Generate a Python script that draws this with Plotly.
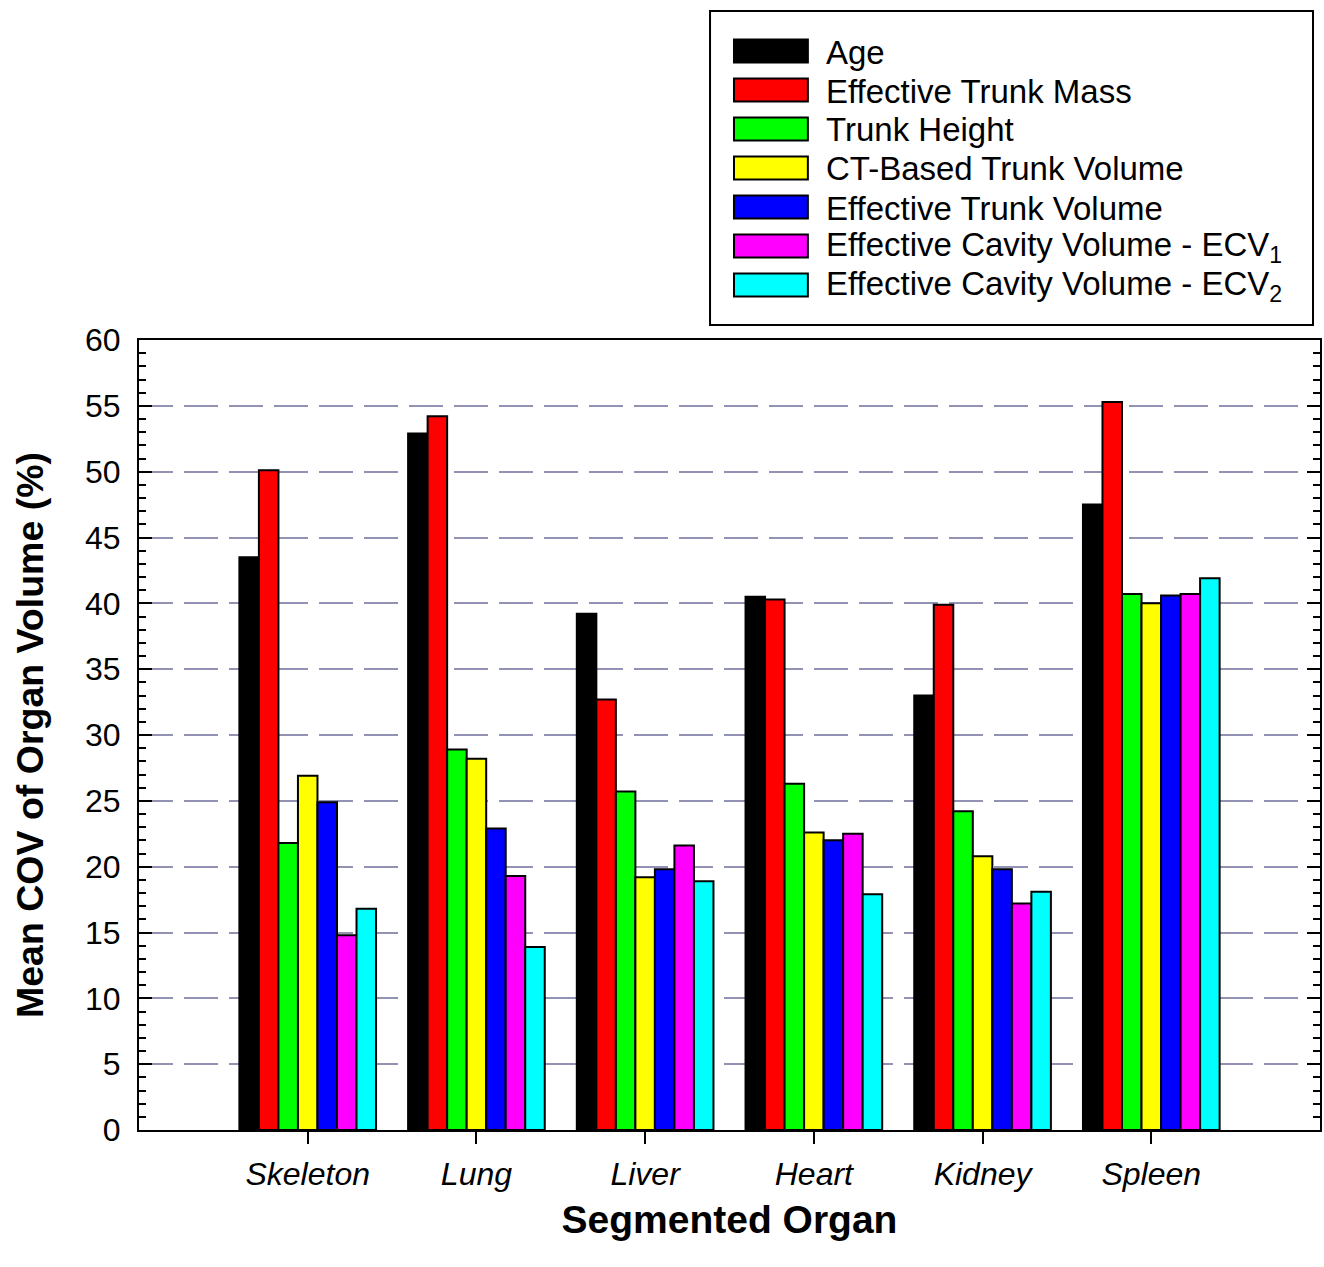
import plotly.graph_objects as go

# Organs on the category axis
organs = ["Skeleton", "Lung", "Liver", "Heart", "Kidney", "Spleen"]

# Mean COV of organ volume (%) for each normalisation parameter
age = [43.5, 52.9, 39.2, 40.5, 33.0, 47.5]
eff_trunk_mass = [50.1, 54.2, 32.7, 40.3, 39.9, 55.3]
trunk_height = [21.8, 28.9, 25.7, 26.3, 24.2, 40.7]
ct_trunk_volume = [26.9, 28.2, 19.2, 22.6, 20.8, 40.0]
eff_trunk_volume = [24.9, 22.9, 19.8, 22.0, 19.8, 40.6]
ecv1 = [14.8, 19.3, 21.6, 22.5, 17.2, 40.7]
ecv2 = [16.8, 13.9, 18.9, 17.9, 18.1, 41.9]

series_names = [
    "Age",
    "Effective Trunk Mass",
    "Trunk Height",
    "CT-Based Trunk Volume",
    "Effective Trunk Volume",
    "Effective Cavity Volume - ECV<sub>1</sub>",
    "Effective Cavity Volume - ECV<sub>2</sub>",
]
series_values = [age, eff_trunk_mass, trunk_height, ct_trunk_volume,
                 eff_trunk_volume, ecv1, ecv2]
series_colors = ["#000000", "#ff0000", "#00ff00", "#ffff00",
                 "#0000ff", "#ff00ff", "#00ffff"]

y_ticks = list(range(0, 61, 5))

FONT = "Liberation Sans, Arial, Helvetica, sans-serif"

W, H = 1324, 1267
M_L, M_R, M_T, M_B = 139, 2, 340, 137

fig = go.Figure()
for name, vals, col in zip(series_names, series_values, series_colors):
    fig.add_trace(go.Bar(
        x=organs, y=vals, name=name,
        marker=dict(color=col, line=dict(color="#000000", width=2)),
        showlegend=False,
    ))

# Helpers converting page pixels to paper coordinates for the legend box
pw = W - M_L - M_R
ph = H - M_T - M_B


def px_x(px):
    return (px - M_L) / pw


def px_y(py):
    return (H - M_B - py) / ph


shapes = [dict(type="rect", xref="paper", yref="paper",
               x0=px_x(711), x1=px_x(1315), y0=px_y(325), y1=px_y(11),
               line=dict(color="#000000", width=2), fillcolor="#ffffff",
               layer="above")]
annotations = []
row0, row_step = 51, 39
for i, (name, col) in enumerate(zip(series_names, series_colors)):
    cy = row0 + i * row_step
    shapes.append(dict(type="rect", xref="paper", yref="paper",
                       x0=px_x(735), x1=px_x(809),
                       y0=px_y(cy + 11.5), y1=px_y(cy - 11.5),
                       line=dict(color="#000000", width=2), fillcolor=col,
                       layer="above"))
    annotations.append(dict(xref="paper", yref="paper",
                            x=px_x(825), y=px_y(cy + 1),
                            xanchor="left", yanchor="middle",
                            text=name, showarrow=False,
                            font=dict(family=FONT, size=33, color="#000000")))

fig.update_layout(
    width=W, height=H,
    margin=dict(l=M_L, r=M_R, t=M_T, b=M_B, pad=0),
    paper_bgcolor="#ffffff", plot_bgcolor="#ffffff",
    barmode="group", bargap=0.19, bargroupgap=0,
    font=dict(family=FONT, color="#000000"),
    shapes=shapes, annotations=annotations,
    showlegend=False,
)

fig.update_xaxes(
    type="category", range=[-1, 6],
    showline=True, linecolor="#000000", linewidth=2, mirror=True,
    ticks="outside", ticklen=12, tickwidth=2, tickcolor="#000000",
    tickfont=dict(family=FONT, size=32, style="italic", color="#000000"),
    ticklabelstandoff=3,
    showgrid=False, zeroline=False,
    title=dict(text="<b>Segmented Organ</b>",
               font=dict(family=FONT, size=39, color="#000000"),
               standoff=14),
)

fig.update_yaxes(
    range=[0, 60], tickvals=y_ticks,
    showline=True, linecolor="#000000", linewidth=2, mirror="ticks",
    ticks="inside", ticklen=13, tickwidth=2, tickcolor="#000000",
    minor=dict(dtick=1, ticks="inside", ticklen=7, tickwidth=1.5,
               tickcolor="#000000", showgrid=False),
    tickfont=dict(family=FONT, size=32, color="#000000"),
    ticklabelstandoff=10,
    showgrid=True, gridcolor="#9292b4", gridwidth=2, griddash="34px,11px",
    zeroline=False,
    title=dict(text="<b>Mean COV of Organ Volume (%)</b>",
               font=dict(family=FONT, size=37.5, color="#000000"),
               standoff=30),
)

fig.write_html("out.html")
